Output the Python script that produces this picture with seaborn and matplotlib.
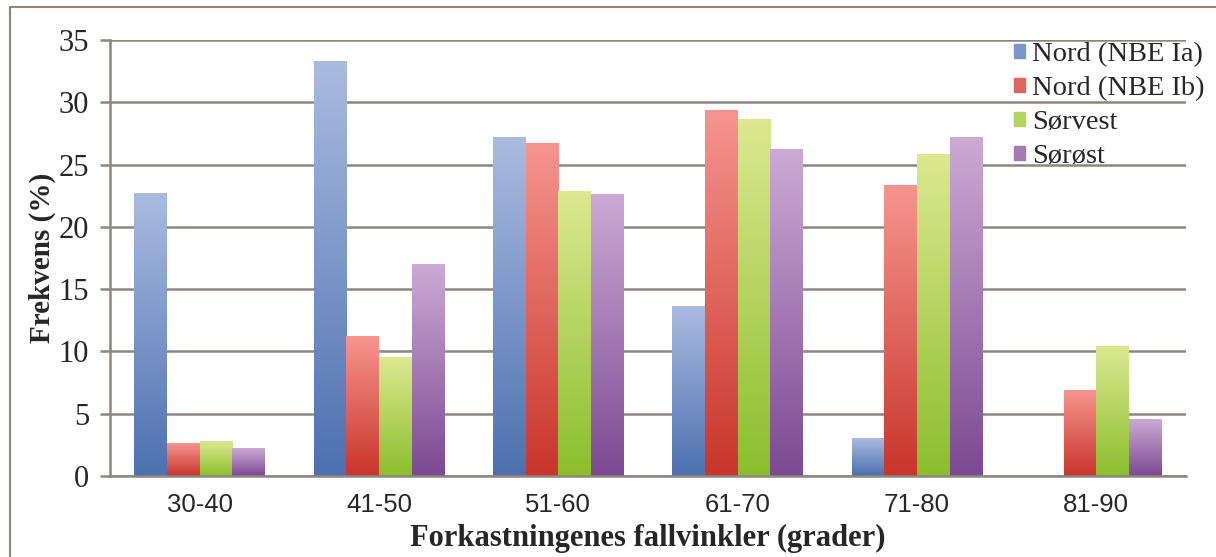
import numpy as np
import pandas as pd
import matplotlib
matplotlib.use("Agg")
import matplotlib.pyplot as plt
from matplotlib.colors import LinearSegmentedColormap, to_hex
from matplotlib.lines import Line2D
import seaborn as sns

# data
vinkler = ["30-40", "41-50", "51-60", "61-70", "71-80", "81-90"]
omraader = ["Nord (NBE Ia)", "Nord (NBE Ib)", "Sørvest", "Sørøst"]
nord_ia = [22.7, 33.3, 27.2, 13.6, 3.0, 0.0]
nord_ib = [2.6, 11.2, 26.7, 29.3, 23.3, 6.9]
sorvest = [2.8, 9.5, 22.8, 28.6, 25.8, 10.4]
sorost = [2.2, 17.0, 22.6, 26.2, 27.2, 4.5]

# (top, bottom) colours of the gradient fills
lys = ["#aabbe0", "#f6958f", "#dde891", "#ccaad4"]
mork = ["#4d70b0", "#c8352b", "#8bbe2d", "#7c4992"]
mid = ["#7b96c8", "#df655d", "#b4d35f", "#a47ab3"]

df = pd.DataFrame({
    "vinkel": vinkler * 4,
    "frekvens": nord_ia + nord_ib + sorvest + sorost,
    "omraade": np.repeat(omraader, len(vinkler)),
})

sns.set_style("white")
plt.rcParams["font.family"] = ["Liberation Serif", "DejaVu Serif"]
grid_col = "#8c8681"

fig = plt.figure(figsize=(12.16, 5.57), dpi=100)
ax = fig.add_axes([0.0905, 0.1454, 0.8848, 0.7828])

sns.barplot(data=df, x="vinkel", y="frekvens", hue="omraade",
            palette=mid, width=0.73, gap=0, saturation=1,
            edgecolor="none", ax=ax, legend=True)

xlim = (-0.5, len(vinkler) - 0.5)

# replace flat fills by vertical gradients, light at top
mid_hex = [to_hex(c) for c in mid]
grad = np.linspace(0, 1, 256).reshape(-1, 1)
for p in ax.patches:
    h = p.get_height()
    if h <= 0:
        continue
    idx = mid_hex.index(to_hex(p.get_facecolor()[:3]))
    cmap = LinearSegmentedColormap.from_list("g", [mork[idx], lys[idx]])
    x0 = p.get_x()
    w = p.get_width()
    ax.imshow(grad, cmap=cmap, origin="lower", aspect="auto",
              extent=(x0, x0 + w, 0, h), zorder=2, interpolation="bilinear")
    p.set_facecolor("none")

ax.set_xlim(*xlim)
ax.set_ylim(0, 35)
ax.set_yticks(range(0, 36, 5))
ax.yaxis.grid(True, color=grid_col, linewidth=1.8)
ax.set_axisbelow(True)
for s in ["top", "right"]:
    ax.spines[s].set_visible(False)
for s in ["left", "bottom"]:
    ax.spines[s].set_color(grid_col)
    ax.spines[s].set_linewidth(1.8)
ax.tick_params(axis="y", length=7, width=1.8, color=grid_col,
               labelsize=22, pad=8, left=True)
ax.tick_params(axis="x", length=0, labelsize=18.5, pad=12)
for lab in ax.get_xticklabels():
    lab.set_fontfamily(["Liberation Sans", "DejaVu Sans"])

ax.set_ylabel("Frekvens (%)", fontsize=21, fontweight="bold", labelpad=2)
ax.set_xlabel("Forkastningenes fallvinkler (grader)", fontsize=22,
              fontweight="bold", labelpad=5)

handles = [plt.Rectangle((0, 0), 1, 1, color=c) for c in mid]
ax.legend(handles, omraader, loc="upper left", frameon=False,
          bbox_to_anchor=(0.822, 0.95), bbox_transform=fig.transFigure,
          fontsize=20.5, handlelength=0.4, handleheight=0.4,
          handletextpad=0.25, labelspacing=0.32, borderpad=0)

# outer frame of the original figure
fig.add_artist(Line2D([0.0082, 1.0], [0.9874, 0.9874], color=grid_col, lw=1.5))
fig.add_artist(Line2D([0.0082, 0.0082], [0.0, 0.9874], color=grid_col, lw=1.5))

fig.savefig("out.png", dpi=100)
